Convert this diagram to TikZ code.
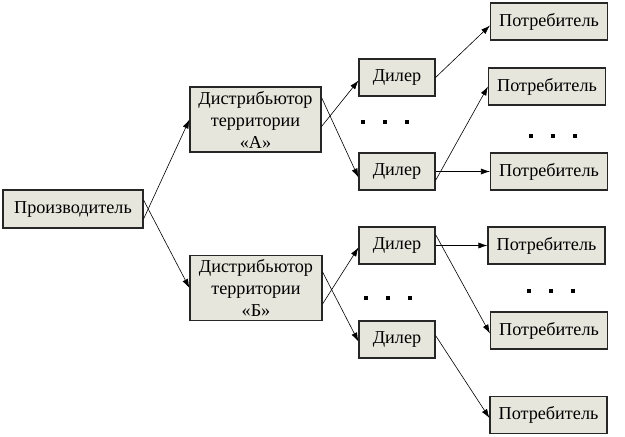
\documentclass[tikz,border=0pt]{standalone}
\usepackage{fontspec}
\setmainfont{Liberation Serif}
\usetikzlibrary{arrows.meta}
\begin{document}
\begin{tikzpicture}[x=1pt,y=-1pt,
    box/.style={draw=black!85,line width=1.1pt,fill=boxfill,inner sep=0pt,align=center,font=\fontsize{18.2}{22}\selectfont},
    dealer/.style={box,minimum width=76pt,minimum height=37pt},
    consumer/.style={box,minimum width=117pt,minimum height=37pt},
    arr/.style={-{Latex[length=9pt,width=6pt]},line width=0.6pt}]
    \definecolor{boxfill}{RGB}{230,230,220}
    \useasboundingbox (0,0) rectangle (625,437);
    \node[box,minimum width=140pt,minimum height=38pt] (prod) at (73,209) {Производитель};
    \node[box,minimum width=131pt,minimum height=65pt] (distA) at (255.5,119.5) {Дистрибьютор\\территории\\«А»};
    \node[box,minimum width=132pt,minimum height=65pt] (distB) at (256,288) {Дистрибьютор\\территории\\«Б»};
    \node[dealer] (d1) at (397,77.5) {Дилер};
    \node[dealer] (d2) at (397,171.5) {Дилер};
    \node[dealer] (d3) at (397,245.5) {Дилер};
    \node[dealer] (d4) at (397,339.5) {Дилер};
    \node[consumer] (c1) at (549,21.5) {Потребитель};
    \node[consumer] (c2) at (547,86.5) {Потребитель};
    \node[consumer] (c3) at (549,171.5) {Потребитель};
    \node[consumer] (c4) at (546.5,245.5) {Потребитель};
    \node[consumer] (c5) at (549,330.5) {Потребитель};
    \node[consumer] (c6) at (548.5,415) {Потребитель};
    % dots
    \foreach \x/\y in {363/122,385/122,407/122,531/136,553/136,575/136,
                       366/298,388/298,410/298,529/291,551/291,573/291}
        \fill (\x-2,\y-2) rectangle (\x+2,\y+2);
    % arrows
    \draw[arr] ([yshift=-10pt]prod.east) -- (distA.west);
    \draw[arr] ([yshift=9pt]prod.east) -- (distB.west);
    \draw[arr] ([yshift=-7pt]distA.east) -- ([yshift=-3pt]d1.west);
    \draw[arr] ([yshift=22pt]distA.east) -- ([yshift=-6pt]d2.west);
    \draw[arr] ([yshift=-16pt]distB.east) -- ([yshift=-2pt]d3.west);
    \draw[arr] ([yshift=16pt]distB.east) -- ([yshift=-2pt]d4.west);
    \draw[arr] (d1.east) -- ([yshift=-4pt]c1.west);
    \draw[arr] ([yshift=-9pt]d2.east) -- (c2.west);
    \draw[arr] (d2.east) -- (c3.west);
    \draw[arr] (d3.east) -- (c4.west);
    \draw[arr] ([yshift=11pt]d3.east) -- ([yshift=-3pt]c5.west);
    \draw[arr] ([yshift=4pt]d4.east) -- ([yshift=-3pt]c6.west);
\end{tikzpicture}
\end{document}
